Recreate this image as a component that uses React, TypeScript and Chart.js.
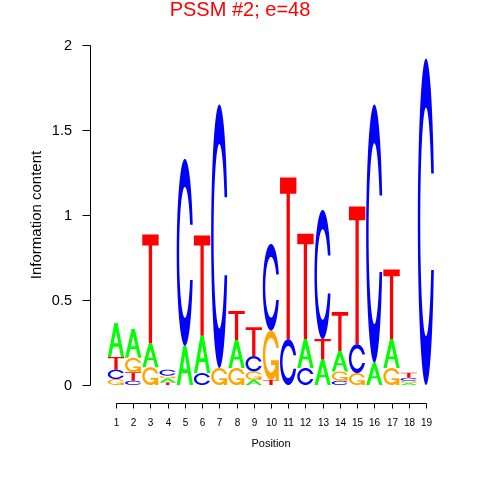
import React, { useEffect, useRef } from "react";
import { Chart, registerables } from "chart.js";

Chart.register(...registerables);

// ---------- data ----------
const positions = [1, 2, 3, 4, 5, 6, 7, 8, 9, 10, 11, 12, 13, 14, 15, 16, 17, 18, 19];
const heightA = [0.2, 0.17, 0.14, 0.025, 0.23, 0.22, 0, 0.165, 0.03, 0, 0, 0.17, 0.15, 0.12, 0, 0.13, 0.17, 0.012, 0];
const heightC = [0.055, 0.025, 0, 0.035, 1.1, 0.07, 1.55, 0, 0.09, 0.51, 0.27, 0.1, 0.76, 0.025, 0.17, 1.52, 0, 0.018, 1.92];
const heightG = [0.035, 0.085, 0.105, 0.015, 0, 0, 0.1, 0.1, 0.05, 0.29, 0, 0, 0, 0.055, 0.07, 0, 0.1, 0.012, 0];
const heightT = [0.075, 0.05, 0.64, 0.015, 0, 0.59, 0, 0.17, 0.17, 0.03, 0.95, 0.62, 0.12, 0.23, 0.81, 0, 0.41, 0.03, 0];
// stacking order, bottom to top
const stackOrder = ["GCTA", "CTGA", "GAT", "TAGC", "AC", "CAT", "GC", "GAT", "AGCT", "TGC", "CT", "CAT", "ATC", "CGAT", "GCT", "AC", "GAT", "AGCT", "C"];
const yTicks = [0, 0.5, 1, 1.5, 2];
const yTickLabels = ["0", "0.5", "1", "1.5", "2"];
const titleText = "PSSM #2; e=48";
const xTitle = "Position";
const yTitle = "Information content";

const heights: Record<string, number[]> = { A: heightA, C: heightC, G: heightG, T: heightT };
const letterColors: Record<string, string> = { A: "#00FF00", C: "#0000FF", G: "#FFA500", T: "#FF0000" };

// ---------- letter shapes (unit square, y up) ----------
type Pt = [number, number];
function seq(a: number, b: number, n: number) {
  const r: number[] = [];
  for (let i = 0; i < n; i++) r.push(a + ((b - a) * i) / (n - 1));
  return r;
}
function ringShape(): Pt[] {
  const a1 = seq(0.3 + Math.PI / 2, Math.PI, 100);
  const a2 = seq(Math.PI, 1.5 * Math.PI, 100);
  const xl = [...a1.map((a) => 0.5 + 0.5 * Math.sin(a)), ...a2.map((a) => 0.5 + 0.5 * Math.sin(a))];
  const yl1 = a1.map((a) => 0.5 + 0.5 * Math.cos(a));
  const yl = [...yl1, ...a2.map((a) => 0.5 + 0.5 * Math.cos(a))];
  const maxY = Math.max(...yl1);
  const x = [...xl, ...xl.slice().reverse()];
  const y = [...yl, ...yl.slice().reverse().map((v) => 1 - v)];
  let xi1 = a1.map((a) => 0.5 + 0.35 * Math.sin(a));
  let yi1 = a1.map((a) => 0.5 + 0.35 * Math.cos(a));
  const keep = yi1.map((v) => v <= maxY);
  xi1 = xi1.filter((_, i) => keep[i]);
  yi1 = yi1.filter((_, i) => keep[i]);
  yi1[0] = maxY;
  const xi = [...xi1, ...a2.map((a) => 0.5 + 0.35 * Math.sin(a))];
  const yi = [...yi1, ...a2.map((a) => 0.5 + 0.35 * Math.cos(a))];
  const x1 = [...xi, ...xi.slice().reverse()];
  const y1 = [...yi, ...yi.slice().reverse().map((v) => 1 - v)];
  const X = [...x, ...x1.slice().reverse()];
  const Y = [...y, ...y1.slice().reverse()];
  return X.map((v, i) => [v, Y[i]] as Pt);
}
const RING = ringShape();
const R1 = 0.5 + 0.5 * Math.sin(0.3 + Math.PI / 2);
const SHAPES: Record<string, { pts: Pt[]; fill: string | null }[]> = {
  A: [
    { pts: [[0, 0], [0.4, 1], [0.6, 1], [1, 0], [0.8, 0], [0.68, 0.3], [0.32, 0.3], [0.2, 0], [0, 0]], fill: null },
    { pts: [[0.36, 0.4], [0.5, 0.75], [0.64, 0.4], [0.36, 0.4]], fill: "#FFFFFF" },
  ],
  C: [{ pts: RING, fill: null }],
  G: [
    { pts: RING, fill: null },
    { pts: [[R1, 0.4], [0.5, 0.4], [0.5, 0.3], [R1 - 0.2, 0.3], [R1 - 0.2, 0], [R1, 0], [R1, 0.4]], fill: null },
  ],
  T: [{ pts: [[0, 1], [1, 1], [1, 0.9], [0.6, 0.9], [0.6, 0], [0.4, 0], [0.4, 0.9], [0, 0.9]], fill: null }],
};

const FONT = '"Liberation Sans", Arial, Helvetica, sans-serif';

const logoPlugin = {
  id: "logoPlugin",
  afterDatasetsDraw(chart: any) {
    const ctx: CanvasRenderingContext2D = chart.ctx;
    const xs = chart.scales.x;
    const ys = chart.scales.y;
    const half = 0.475;
    ctx.save();
    positions.forEach((p, i) => {
      let base = 0;
      for (const L of stackOrder[i]) {
        const h = heights[L][i];
        if (!(h > 0)) continue;
        const x0 = xs.getPixelForValue(p - half);
        const x1 = xs.getPixelForValue(p + half);
        for (const part of SHAPES[L]) {
          ctx.beginPath();
          part.pts.forEach(([ux, uy], k) => {
            const px = x0 + (x1 - x0) * ux;
            const py = ys.getPixelForValue(base + h * uy);
            if (k === 0) ctx.moveTo(px, py);
            else ctx.lineTo(px, py);
          });
          ctx.closePath();
          ctx.fillStyle = part.fill || letterColors[L];
          ctx.fill();
        }
        base += h;
      }
    });
    ctx.restore();
  },
  afterDraw(chart: any) {
    const ctx: CanvasRenderingContext2D = chart.ctx;
    const xs = chart.scales.x;
    const ys = chart.scales.y;
    ctx.save();
    ctx.strokeStyle = "#000000";
    ctx.fillStyle = "#000000";
    ctx.lineWidth = 1;

    // y axis
    const ax = 90.5;
    ctx.beginPath();
    ctx.moveTo(ax, Math.round(ys.getPixelForValue(yTicks[0])) + 0.5);
    ctx.lineTo(ax, Math.round(ys.getPixelForValue(yTicks[yTicks.length - 1])) + 0.5);
    ctx.stroke();
    ctx.font = `14.5px ${FONT}`;
    ctx.textAlign = "right";
    ctx.textBaseline = "middle";
    yTicks.forEach((t, i) => {
      const py = Math.round(ys.getPixelForValue(t)) + 0.5;
      ctx.beginPath();
      ctx.moveTo(ax, py);
      ctx.lineTo(ax - 8, py);
      ctx.stroke();
      ctx.fillText(yTickLabels[i], 72, py);
    });
    ctx.save();
    ctx.font = `15px ${FONT}`;
    ctx.translate(37, (ys.getPixelForValue(0) + ys.getPixelForValue(2)) / 2);
    ctx.rotate(-Math.PI / 2);
    ctx.textAlign = "center";
    ctx.textBaseline = "middle";
    ctx.fillText(yTitle, 0, 0);
    ctx.restore();

    // x axis
    const ay = 403.5;
    ctx.beginPath();
    ctx.moveTo(Math.round(xs.getPixelForValue(positions[0])) + 0.5, ay);
    ctx.lineTo(Math.round(xs.getPixelForValue(positions[positions.length - 1])) + 0.5, ay);
    ctx.stroke();
    ctx.font = `10px ${FONT}`;
    ctx.textAlign = "center";
    ctx.textBaseline = "middle";
    positions.forEach((p) => {
      const px = Math.round(xs.getPixelForValue(p)) + 0.5;
      ctx.beginPath();
      ctx.moveTo(px, ay);
      ctx.lineTo(px, ay + 5);
      ctx.stroke();
      ctx.fillText(String(p), px, 423);
    });
    ctx.font = `11px ${FONT}`;
    ctx.fillText(xTitle, (xs.getPixelForValue(positions[0]) + xs.getPixelForValue(positions[positions.length - 1])) / 2, 444);

    // title
    ctx.font = `20px ${FONT}`;
    ctx.fillStyle = "#FF0000";
    ctx.textAlign = "center";
    ctx.textBaseline = "alphabetic";
    ctx.fillText(titleText, 240, 16);
    ctx.restore();
  },
};

export default function App() {
  const canvasRef = useRef<HTMLCanvasElement | null>(null);
  useEffect(() => {
    if (!canvasRef.current) return;
    const totals = positions.map((_, i) => heightA[i] + heightC[i] + heightG[i] + heightT[i]);
    const chart = new Chart(canvasRef.current, {
      type: "scatter",
      data: {
        datasets: [
          {
            data: positions.map((p, i) => ({ x: p, y: totals[i] })),
            pointRadius: 0,
            showLine: false,
          },
        ],
      },
      options: {
        responsive: false,
        animation: false,
        devicePixelRatio: 1,
        layout: { padding: { left: 107.39, right: 45.39, top: 45, bottom: 95 } },
        scales: {
          x: { type: "linear", min: 0.5, max: 19.5, display: false },
          y: { type: "linear", min: 0, max: 2, display: false },
        },
        plugins: { legend: { display: false }, tooltip: { enabled: false }, title: { display: false } },
      },
      plugins: [logoPlugin as any],
    });
    return () => chart.destroy();
  }, []);
  return (
    <div style={{ position: "absolute", left: 0, top: 0, width: 480, height: 480, background: "#FFFFFF" }}>
      <canvas ref={canvasRef} width={480} height={480} style={{ display: "block" }} />
    </div>
  );
}
